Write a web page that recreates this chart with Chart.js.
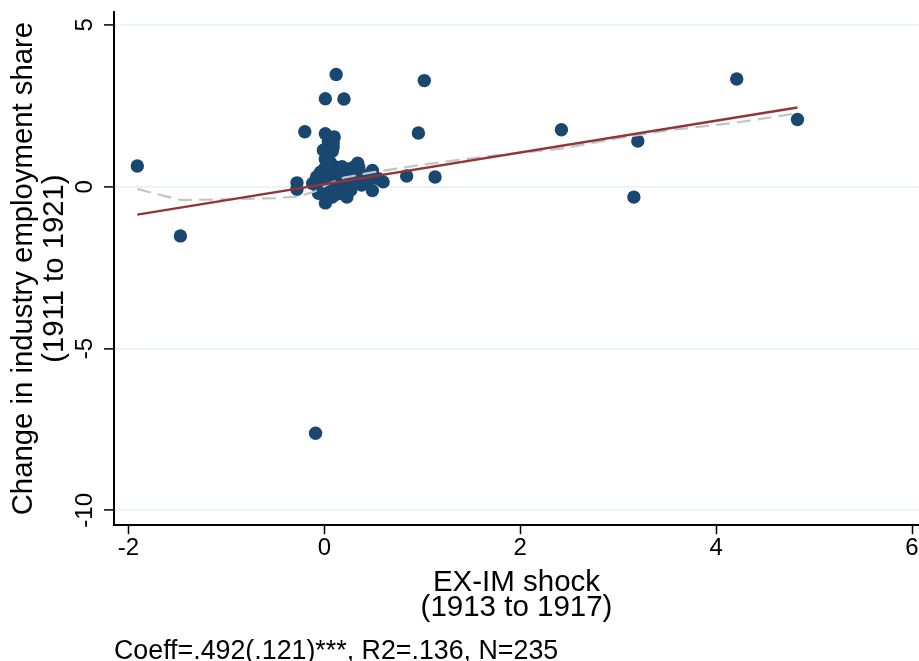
<!DOCTYPE html>
<html>
<head>
<meta charset="utf-8">
<script src="https://cdn.jsdelivr.net/npm/chart.js@4.4.1/dist/chart.umd.min.js"></script>
<style>
  html, body { margin: 0; padding: 0; background: #ffffff; }
  #wrap { width: 919px; height: 661px; }
</style>
</head>
<body>
<div id="wrap"><canvas id="c" width="919" height="661"></canvas></div>
<script>
// ---- data ----
const shockX = [
  -1.91, -1.47, -0.28, -0.28, -0.20, -0.09, 0.01, 0.12, 0.20, 0.01,
  0.10, 0.02, 0.09, 0.04, 0.09, -0.01, 0.08, 0.01, 0.03, 0.06,
  1.02, 0.96, 1.13, 0.84, 0.60, 0.49, 0.49, 0.34, 0.30, 0.23,
  0.01, 2.42, 3.16, 3.20, 4.21, 4.83,
  -0.12, -0.04, 0.00, 0.11, 0.15, 0.18, 0.01, 0.33, 0.28, 0.08,
  -0.06, 0.41, 0.37, 0.26, 0.13, 0.23, 0.05, 0.10, 0.20, 0.00,
  -0.02, 0.03, 0.15, 0.30, 0.06, 0.12, 0.45, 0.55, 0.38, 0.02,
  0.20, 0.25, 0.05, -0.08, 0.10, 0.17, 0.35, 0.22, 0.14, 0.07,
  0.27, 0.18, 0.32, 0.04
];
const empChangeY = [
  0.64, -1.52, 0.12, -0.08, 1.70, -7.62, 2.72, 3.47, 2.71, 1.64,
  1.54, 1.17, 1.23, 1.38, 1.35, 1.13, 1.10, 0.85, 0.95, 0.75,
  3.28, 1.66, 0.30, 0.33, 0.15, 0.50, -0.12, 0.73, 0.60, -0.32,
  -0.50, 1.76, -0.32, 1.41, 3.33, 2.08,
  0.10, 0.45, 0.55, 0.61, 0.55, 0.20, -0.10, 0.20, 0.42, -0.32,
  -0.20, 0.30, 0.42, 0.30, 0.00, 0.00, 0.20, 0.35, 0.45, 0.20,
  0.00, -0.25, -0.15, 0.10, 0.10, 0.15, 0.20, 0.25, 0.05, 0.40,
  0.10, 0.55, 0.60, 0.30, -0.10, 0.35, 0.60, 0.25, -0.22, -0.05,
  -0.10, 0.62, 0.35, 0.70
];
const fitX = [-1.91, 4.83];
const fitY = [-0.86, 2.45];
const lowessX = [-1.91, -1.47, -1.00, -0.50, -0.28, -0.10, 0.05, 0.20, 0.50, 1.00, 1.50, 2.00, 2.42, 3.00, 3.50, 4.20, 4.83];
const lowessY = [-0.07, -0.41, -0.39, -0.35, -0.31, -0.15, 0.10, 0.28, 0.45, 0.68, 0.88, 1.05, 1.18, 1.50, 1.74, 1.98, 2.27];
const xTickValues = [-2, 0, 2, 4, 6];
const yTickValues = [-10, -5, 0, 5];
const xTitleLines = ['EX-IM shock', '(1913 to 1917)'];
const yTitleLines = ['Change in industry employment share', '(1911 to 1921)'];
const noteText = 'Coeff=.492(.121)***, R2=.136, N=235';

const FONT = "'Liberation Sans', Arial, sans-serif";

const pts = shockX.map((x, i) => ({ x: x, y: empChangeY[i] }));
const fitPts = fitX.map((x, i) => ({ x: x, y: fitY[i] }));
const lowPts = lowessX.map((x, i) => ({ x: x, y: lowessY[i] }));

// tick labels drawn from the scales (y labels are rotated as in the reference)
const tickLabelPlugin = {
  id: 'tickLabels',
  afterDraw(chart) {
    const sx = chart.scales.x;
    const sy = chart.scales.y;
    const ctx = chart.ctx;
    ctx.save();
    ctx.fillStyle = '#000';
    ctx.font = '24px ' + FONT;
    ctx.textAlign = 'center';
    ctx.textBaseline = 'middle';
    yTickValues.forEach(v => {
      const py = sy.getPixelForValue(v);
      ctx.save();
      ctx.translate(85, py);
      ctx.rotate(-Math.PI / 2);
      ctx.fillText(String(v), 0, 0);
      ctx.restore();
    });
    const ly = sx.top + 23.5;
    xTickValues.forEach(v => {
      ctx.fillText(String(v), sx.getPixelForValue(v), ly);
    });
    ctx.restore();
  }
};

new Chart(document.getElementById('c'), {
  type: 'scatter',
  data: {
    datasets: [
      {
        label: 'Fitted values',
        data: fitPts,
        showLine: true,
        borderColor: '#90353b',
        borderWidth: 2.4,
        pointRadius: 0,
        fill: false
      },
      {
        label: 'Lowess',
        data: lowPts,
        showLine: true,
        borderColor: '#c4c4c4',
        borderWidth: 2.2,
        borderDash: [14, 7],
        pointRadius: 0,
        tension: 0,
        fill: false
      },
      {
        label: 'Industries',
        data: pts,
        pointRadius: 6.7,
        pointBorderWidth: 0,
        backgroundColor: '#1a476f',
        borderColor: '#1a476f'
      }
    ]
  },
  options: {
    responsive: false,
    animation: false,
    layout: { autoPadding: false, padding: { top: 12, left: 0, right: 0, bottom: 0 } },
    plugins: {
      legend: { display: false },
      tooltip: { enabled: false },
      title: {
        display: true,
        position: 'bottom',
        align: 'start',
        fullSize: false,
        text: noteText,
        color: '#000',
        font: { family: FONT, size: 26.8, weight: 'normal', lineHeight: 0.72 },
        padding: { top: 0, bottom: 0 }
      }
    },
    scales: {
      x: {
        type: 'linear',
        min: -2.148,
        max: 6.071,
        afterBuildTicks(s) { s.ticks = xTickValues.map(v => ({ value: v })); },
        afterFit(s) { s.height = 116.5; },
        grid: {
          drawOnChartArea: false,
          drawTicks: true,
          tickLength: 9,
          tickColor: '#000',
          tickWidth: 1.5
        },
        border: { display: true, color: '#000', width: 2 },
        ticks: { display: false },
        title: {
          display: true,
          text: xTitleLines,
          color: '#000',
          font: { family: FONT, size: 29.5, lineHeight: 0.85 },
          padding: { top: 0, bottom: 21.5 }
        }
      },
      y: {
        type: 'linear',
        min: -10.46,
        max: 5.40,
        afterBuildTicks(s) { s.ticks = yTickValues.map(v => ({ value: v })); },
        afterFit(s) { s.width = 114; },
        grid: {
          color: '#eaf2f3',
          lineWidth: 1.8,
          drawTicks: true,
          tickLength: 10,
          tickColor: '#000',
          tickWidth: 1.5
        },
        border: { display: true, color: '#000', width: 2 },
        ticks: { display: false },
        title: {
          display: true,
          text: yTitleLines,
          color: '#000',
          font: { family: FONT, size: 29.3, lineHeight: 1.05 },
          padding: { top: 8.5, bottom: 0 }
        }
      }
    }
  },
  plugins: [tickLabelPlugin]
});
</script>
</body>
</html>
